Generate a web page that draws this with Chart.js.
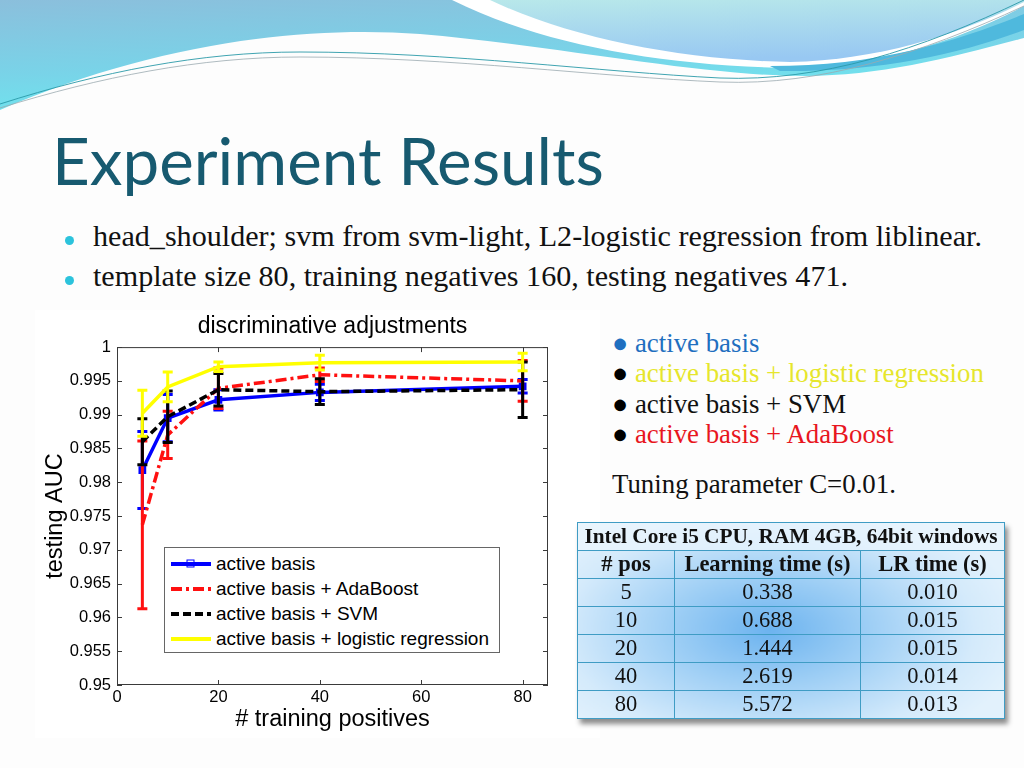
<!DOCTYPE html>
<html><head><meta charset="utf-8">
<script src="https://cdn.jsdelivr.net/npm/chart.js@4.4.1/dist/chart.umd.min.js"></script>
<style>
html,body{margin:0;padding:0;}
body{width:1024px;height:768px;position:relative;overflow:hidden;background:#fdfdfd;font-family:"Liberation Serif",serif;}
#bg{position:absolute;left:0;top:0;}
.txt{position:absolute;white-space:nowrap;line-height:1;}
#title{font-family:"Lato","Open Sans",sans-serif;font-size:58px;color:#175a70;}
.bul{font-size:24px;color:#111;}
.dot{position:absolute;width:9px;height:9px;border-radius:50%;background:#2cc3dc;}
.rl{font-size:22px;}
#chartBox{position:absolute;left:35px;top:310px;width:565px;height:428px;background:#fff;}
#chartBox canvas{position:absolute;left:1px;top:1px;}
#legend{position:absolute;left:164px;top:547px;width:334px;height:104px;border:1px solid #666;background:#fff;font-family:"Liberation Sans",Arial,sans-serif;font-size:19px;color:#000;}
.li{position:absolute;left:6px;height:25px;display:flex;align-items:center;white-space:nowrap;}
.li svg{margin-right:5px;}
#tbl{position:absolute;left:577px;top:522px;border-collapse:collapse;width:428px;font-family:"Liberation Serif",serif;font-size:22.5px;color:#111;
 background:radial-gradient(ellipse 60% 70% at 45% 55%, #6cb3ef 0%, #9fcff5 40%, #d4eafb 80%, #e2f1fc 100%);
 box-shadow:3px 5px 5px rgba(0,0,0,0.45);}
#tbl td{border:1.5px solid #3f9cc4;text-align:center;height:27px;padding:0;line-height:1;}
#tbl tr.h td{font-weight:bold;}
#tbl tr.top td{background:rgba(235,246,253,0.75);font-size:21.3px;}
</style>
</head><body>
<svg id="bg" width="1024" height="130" viewBox="0 0 1024 130">
 <defs>
  <linearGradient id="g1" x1="0" y1="0" x2="0.35" y2="1">
   <stop offset="0" stop-color="#8bbfdc"/><stop offset="0.6" stop-color="#79d3e8"/><stop offset="1" stop-color="#6ee6ef"/>
  </linearGradient>
  <linearGradient id="g2" x1="0" y1="0" x2="0.2" y2="1">
   <stop offset="0" stop-color="#b8e8ea"/><stop offset="1" stop-color="#98c8f2"/>
  </linearGradient>
 </defs>
 <path d="M0,0 H1024 V38 C950,58 880,76 805,76 C700,76 560,46 420,34 C300,25 150,45 0,110 Z" fill="url(#g1)"/>
 <path d="M452,0 C540,44 660,66 790,68 C880,66 960,40 1024,6 V0 Z" fill="#ffffff"/>
 <path d="M490,0 C570,38 680,60 790,62 C880,60 960,34 1024,2 V0 Z" fill="url(#g2)"/>
 <path d="M770,66 C880,66 960,40 1024,14 L1024,30 C960,54 880,72 780,71 Z" fill="#4fb9dd"/>
 <path d="M0,104 C100,72 200,52 300,52 C450,52 600,72 720,78 C820,82 920,50 1024,0" fill="none" stroke="#2a9aa8" stroke-width="0.9"/>
 <path d="M0,108 C100,77 200,57 300,57 C450,57 600,77 720,82 C820,86 920,54 1024,6" fill="none" stroke="#9aaab0" stroke-width="0.8"/>
</svg>

<div id="title" class="txt">Experiment Results</div>
<div class="dot" style="left:65px;top:236px"></div>
<div class="dot" style="left:65px;top:276px"></div>
<div id="b1" class="txt bul">head_shoulder; svm from svm-light, L2-logistic regression from liblinear.</div>
<div id="b2" class="txt bul">template size 80, training negatives 160, testing negatives 471.</div>

<div id="chartBox"><canvas id="c" width="564" height="426"></canvas></div>
<div id="legend"></div>

<div id="rightList"></div>
<div id="tuning" class="txt rl" style="color:#111">Tuning parameter C=0.01.</div>

<table id="tbl"></table>

<script>
// ---------------- data ----------------
const xPositives = [5, 10, 20, 40, 80];
const seriesNames = ['active basis', 'active basis + AdaBoost', 'active basis + SVM', 'active basis + logistic regression'];
const aucActiveBasis = [0.9818, 0.9895, 0.9922, 0.9933, 0.9942];
const errActiveBasis = [0.0057, 0.0035, 0.0015, 0.0012, 0.0010];
const aucAdaBoost = [0.9737, 0.9870, 0.9939, 0.9959, 0.9950];
const errAdaBoost = [0.0124, 0.0035, 0.0030, 0.0010, 0.0030];
const aucSVM = [0.9860, 0.9897, 0.9937, 0.9934, 0.9937];
const errSVM = [0.0034, 0.0038, 0.0024, 0.0019, 0.0041];
const aucLogistic = [0.9902, 0.9941, 0.9971, 0.9977, 0.9978];
const errLogistic = [0.0034, 0.0022, 0.0007, 0.0011, 0.0013];
const xTickValues = [0, 20, 40, 60, 80];
const xTickLabels = ['0', '20', '40', '60', '80'];
const yTickValues = [0.95, 0.955, 0.96, 0.965, 0.97, 0.975, 0.98, 0.985, 0.99, 0.995, 1];
const yTickLabels = ['0.95', '0.955', '0.96', '0.965', '0.97', '0.975', '0.98', '0.985', '0.99', '0.995', '1'];

const sideItems = ['active basis', 'active basis + logistic regression', 'active basis + SVM', 'active basis + AdaBoost'];
const tableCaption = 'Intel Core i5 CPU, RAM 4GB, 64bit windows';
const tableHeaders = ['# pos', 'Learning time (s)', 'LR time (s)'];
const tablePos = ['5', '10', '20', '40', '80'];
const tableLearningTime = ['0.338', '0.688', '1.444', '2.619', '5.572'];
const tableLRTime = ['0.010', '0.015', '0.015', '0.014', '0.013'];

// ---------------- styles ----------------
const seriesStyles = [
  {color: '#0000ff', dash: [], point: 'rect', radius: 3, order: 4},
  {color: '#ff1010', dash: [11, 4, 3, 4], point: false, radius: 0, order: 3},
  {color: '#000000', dash: [8, 4], point: false, radius: 0, order: 2},
  {color: '#ffff00', dash: [], point: false, radius: 0, order: 1}
];
const seriesValues = [aucActiveBasis, aucAdaBoost, aucSVM, aucLogistic];
const seriesErrors = [errActiveBasis, errAdaBoost, errSVM, errLogistic];

const datasets = seriesNames.map((name, i) => ({
  label: name,
  data: xPositives.map((x, j) => ({x: x, y: seriesValues[i][j]})),
  errors: seriesErrors[i],
  borderColor: seriesStyles[i].color,
  backgroundColor: seriesStyles[i].color,
  borderWidth: 3.5,
  borderDash: seriesStyles[i].dash,
  pointStyle: seriesStyles[i].point,
  pointRadius: seriesStyles[i].radius,
  order: seriesStyles[i].order,
  tension: 0,
  fill: false
}));

const errorBarPlugin = {
  id: 'errorBars',
  afterDatasetDraw(chart, args) {
    const ds = chart.data.datasets[args.index];
    const ys = chart.scales.y, xs = chart.scales.x;
    const ctx = chart.ctx;
    ctx.save();
    ctx.strokeStyle = ds.borderColor;
    ctx.lineWidth = 3;
    ctx.setLineDash([]);
    ds.data.forEach((p, j) => {
      const e = ds.errors[j];
      const px = xs.getPixelForValue(p.x);
      const y1 = ys.getPixelForValue(p.y - e), y2 = ys.getPixelForValue(p.y + e);
      ctx.beginPath();
      ctx.moveTo(px, y1); ctx.lineTo(px, y2);
      ctx.moveTo(px - 5, y1); ctx.lineTo(px + 5, y1);
      ctx.moveTo(px - 5, y2); ctx.lineTo(px + 5, y2);
      ctx.stroke();
    });
    ctx.restore();
  }
};

const framePlugin = {
  id: 'frame',
  afterLayout(chart) {
    // centre the chart title over the plot box (MATLAB style)
    const t = chart.titleBlock;
    if (t) { t.left = chart.chartArea.left; t.right = chart.chartArea.right; }
  },
  beforeDatasetsDraw(chart) {
    const {ctx, chartArea: a, scales} = chart;
    ctx.save();
    ctx.strokeStyle = '#3a3a3a';
    ctx.lineWidth = 1;
    ctx.strokeRect(a.left + 0.5, a.top + 0.5, a.right - a.left - 1, a.bottom - a.top - 1);
    ctx.beginPath();
    scales.x.ticks.forEach(t => {
      const px = Math.round(scales.x.getPixelForValue(t.value)) + 0.5;
      ctx.moveTo(px, a.bottom); ctx.lineTo(px, a.bottom - 5);
      ctx.moveTo(px, a.top); ctx.lineTo(px, a.top + 5);
    });
    scales.y.ticks.forEach(t => {
      const py = Math.round(scales.y.getPixelForValue(t.value)) + 0.5;
      ctx.moveTo(a.left, py); ctx.lineTo(a.left + 5, py);
      ctx.moveTo(a.right, py); ctx.lineTo(a.right - 5, py);
    });
    ctx.stroke();
    ctx.restore();
  }
};

const sansFamily = '"Liberation Sans", Arial, sans-serif';
const tickFont = {family: sansFamily, size: 16.5};
new Chart(document.getElementById('c'), {
  type: 'line',
  data: {datasets: datasets},
  plugins: [errorBarPlugin, framePlugin],
  options: {
    responsive: false,
    animation: false,
    layout: {padding: {left: 0, right: 52, top: 0, bottom: 0}, autoPadding: false},
    plugins: {
      legend: {display: false},
      tooltip: {enabled: false},
      title: {display: true, text: 'discriminative adjustments', color: '#000',
        font: {family: sansFamily, size: 23, weight: 'normal'},
        padding: {top: 1.5, bottom: 7}}
    },
    scales: {
      x: {
        type: 'linear', min: 0, max: 85,
        afterFit(s) { s.height = 52; },
        afterBuildTicks(s) { s.ticks = xTickValues.map(v => ({value: v})); },
        ticks: {color: '#000', font: tickFont, padding: 3, maxRotation: 0,
          callback: (v, i) => xTickLabels[i]},
        grid: {display: false, drawTicks: false},
        border: {display: false},
        title: {display: true, text: '# training positives', color: '#000',
          font: {family: sansFamily, size: 23.5}, padding: {top: 0, bottom: 3}}
      },
      y: {
        type: 'linear', min: 0.95, max: 1,
        afterFit(s) { s.width = 81; },
        afterBuildTicks(s) { s.ticks = yTickValues.map(v => ({value: v})); },
        ticks: {color: '#000', font: tickFont, padding: 6,
          callback: (v, i) => yTickLabels[i]},
        grid: {display: false, drawTicks: false},
        border: {display: false},
        title: {display: true, text: 'testing AUC', color: '#000',
          font: {family: sansFamily, size: 23.5}, padding: {top: 5, bottom: 0}}
      }
    }
  }
});

// ---------------- legend (inside plot) ----------------
const legend = document.getElementById('legend');
seriesNames.forEach((name, i) => {
  const st = seriesStyles[i];
  const row = document.createElement('div');
  row.className = 'li';
  row.style.top = (3 + i * 25) + 'px';
  const dash = st.dash.length ? ` stroke-dasharray="${st.dash.join(',')}"` : '';
  let marker = '';
  if (st.point === 'rect') marker = `<rect x="16" y="6" width="7" height="7" fill="none" stroke="${st.color}" stroke-width="1"/>`;
  row.innerHTML = `<svg width="40" height="20"><line x1="0" y1="10" x2="40" y2="10" stroke="${st.color}" stroke-width="4"${dash}/>${marker}</svg><span>${name}</span>`;
  legend.appendChild(row);
});

// ---------------- right list ----------------
const sideColors = ['#1f6fc0', '#e6e62c', '#111111', '#e8161e'];
const sideDots = ['#1f6fc0', '#000', '#000', '#000'];
const rightList = document.getElementById('rightList');
const sideBase = [352, 382, 413, 443];
const sideEls = sideItems.map((t, i) => {
  const d = document.createElement('div');
  d.className = 'txt rl';
  d.innerHTML = `<span style="color:${sideDots[i]}">&#9679;</span> <span style="color:${sideColors[i]}">${t}</span>`;
  rightList.appendChild(d);
  return d;
});

// ---------------- table ----------------
const tbl = document.getElementById('tbl');
let html = `<tr class="h top"><td colspan="3">${tableCaption}</td></tr>`;
html += `<tr class="h">` + tableHeaders.map(h => `<td>${h}</td>`).join('') + `</tr>`;
tablePos.forEach((p, i) => {
  html += `<tr><td style="width:96px">${p}</td><td style="width:185px">${tableLearningTime[i]}</td><td>${tableLRTime[i]}</td></tr>`;
});
tbl.innerHTML = html;

// ---------------- text placement ----------------
function place(el, x, baseY, targetW) {
  el.style.left = x + 'px'; el.style.top = '0px';
  if (targetW) {
    const w = el.getBoundingClientRect().width;
    const fs = parseFloat(getComputedStyle(el).fontSize);
    el.style.fontSize = (fs * targetW / w) + 'px';
  }
  const m = document.createElement('span');
  m.style.display = 'inline-block'; m.style.width = '0'; m.style.height = '0';
  el.appendChild(m);
  const off = m.getBoundingClientRect().top - el.getBoundingClientRect().top;
  el.removeChild(m);
  el.style.top = (baseY - off) + 'px';
}
place(document.getElementById('title'), 52, 185, 552);
const b1 = document.getElementById('b1');
place(b1, 93, 246, 889);
const b2 = document.getElementById('b2');
b2.style.fontSize = b1.style.fontSize;
place(b2, 93, 286);
const widest = sideEls[1];
place(widest, 612, sideBase[1], 372);
sideEls.forEach((el, i) => { if (i !== 1) { el.style.fontSize = widest.style.fontSize; place(el, 612, sideBase[i]); } });
const tuning = document.getElementById('tuning');
tuning.style.fontSize = widest.style.fontSize;
place(tuning, 612, 493);
</script>
</body></html>
